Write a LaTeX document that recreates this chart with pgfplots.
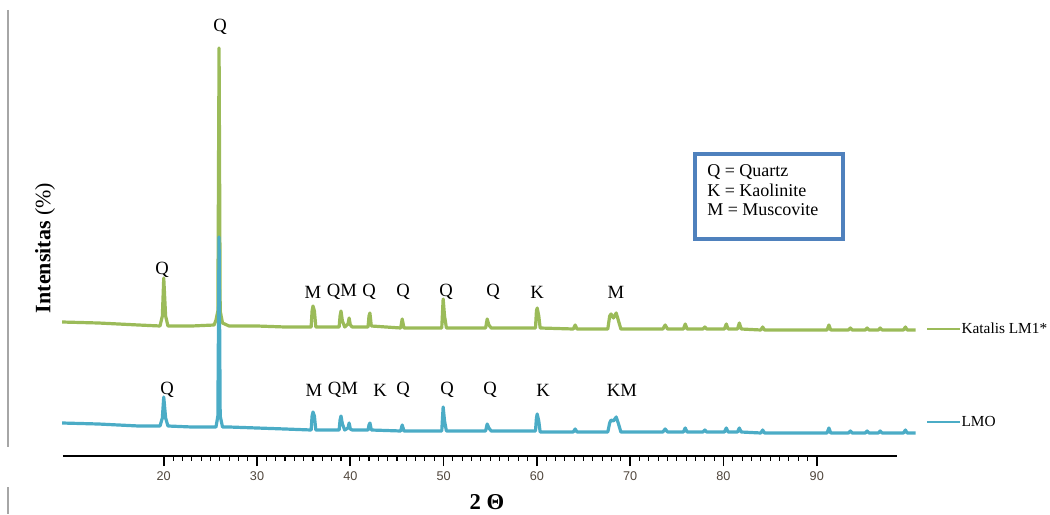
\documentclass[border=0pt]{standalone}
\usepackage{fontspec}
\setmainfont{Liberation Serif}
\newfontfamily\tickfont{Liberation Sans}
\usepackage{pgfplots}
\pgfplotsset{compat=1.18}

\definecolor{lmgreen}{HTML}{9BBB59}
\definecolor{lmblue}{HTML}{4BACC6}
\definecolor{boxblue}{HTML}{4F81BD}
\definecolor{ticktxt}{RGB}{80,70,60}

\newcommand{\pk}{\fontsize{14}{16}\selectfont}

\begin{document}
\begin{tikzpicture}[px/.style={x=0.75pt,y=-0.75pt,shift={(-47.25pt,342pt)}}]
\begin{scope}[px]
\useasboundingbox (0,0) rectangle (1050,514);
\end{scope}

\begin{axis}[
    at={(0,0)}, anchor=south west,
    scale only axis,
    width=625.5pt,
    height=327pt,
    xmin=9.2, xmax=98.6,
    ymin=0, ymax=436,
    axis x line*=bottom,
    axis y line=none,
    ytick=\empty,
    xtick={20,30,...,90},
    minor x tick num=9,
    tick align=outside,
    major tick length=7.5pt,
    minor tick length=3.5pt,
    x axis line style={line width=1.6pt, black},
    major tick style={line width=1.3pt, black},
    minor tick style={line width=0.8pt, black},
    /pgf/number format/assume math mode=true,
    xticklabel style={font=\tickfont\fontsize{9.5}{11}\selectfont, text=ticktxt, yshift=-1pt},
    clip=false,
]
% Katalis LM1* (upper trace)
\addplot[lmgreen, line width=2.4pt, line join=round] coordinates {
    (9.1,134) (13.0,133) (17.3,131) (19.6,130) (19.85,140) (20.0,178) (20.2,140) (20.45,130)
    (23.0,130) (25.4,131) (25.6,136) (25.8,145) (25.93,408) (26.05,145) (26.3,133) (27.0,130)
    (30.0,130) (33.0,129) (35.8,129) (35.9,145) (36.0,150) (36.15,145) (36.3,129)
    (38.8,129) (38.9,140) (39.0,145) (39.15,135) (39.4,129) (39.75,132) (39.87,138) (40.0,131) (40.2,129)
    (41.9,129) (42.0,140) (42.1,143) (42.25,130) (45.4,128) (45.56,137) (45.75,128)
    (49.8,128) (49.95,157) (50.1,140) (50.3,128) (54.5,128) (54.67,137) (54.85,131) (55.1,128)
    (59.85,128) (59.95,145) (60.03,148) (60.2,140) (60.35,128) (63.9,127) (64.1,131) (64.3,127)
    (67.6,127) (67.8,140) (67.95,142) (68.2,138) (68.5,143) (68.75,135) (69.0,127)
    (73.5,127) (73.75,131) (74.0,127) (75.7,127) (75.9,132) (76.1,127) (77.8,127) (78.0,129) (78.2,127)
    (80.1,127) (80.3,132) (80.5,127) (81.5,127) (81.7,133) (81.9,127) (84.0,126) (84.2,129) (84.4,126)
    (91.1,126) (91.3,131) (91.5,126) (93.4,126) (93.6,128) (93.8,126) (95.2,126) (95.4,128) (95.6,126)
    (96.6,126) (96.8,128) (97.0,126) (99.3,126) (99.5,129) (99.7,126) (100.6,126)
};
% LMO (lower trace)
\addplot[lmblue, line width=2.4pt, line join=round] coordinates {
    (9.1,33) (13.0,32) (17.3,30) (19.6,30) (19.85,38) (20.0,59) (20.2,38) (20.45,30)
    (23.0,29) (25.6,29) (25.8,40) (25.93,219) (26.05,40) (26.3,29) (27.0,29)
    (30.0,28) (33.0,27) (35.8,26) (35.9,40) (36.0,44) (36.15,40) (36.3,26)
    (38.8,26) (38.9,36) (39.0,40) (39.15,32) (39.4,26) (39.75,28) (39.87,33) (40.0,27) (40.2,26)
    (41.9,26) (42.0,31) (42.1,33) (42.25,26) (45.4,25) (45.56,31) (45.75,25)
    (49.8,25) (49.95,49) (50.1,35) (50.3,25) (54.5,25) (54.67,32) (54.85,28) (55.1,25)
    (59.85,25) (59.95,38) (60.03,42) (60.2,35) (60.35,24) (63.9,24) (64.1,27) (64.3,24)
    (67.6,24) (67.8,33) (67.95,36) (68.2,35) (68.5,39) (68.75,32) (69.0,24)
    (73.5,24) (73.75,27) (74.0,24) (75.7,24) (75.9,28) (76.1,24) (77.8,24) (78.0,26) (78.2,24)
    (80.1,24) (80.3,28) (80.5,24) (81.5,24) (81.7,28) (81.9,24) (84.0,23) (84.2,26) (84.4,23)
    (91.1,23) (91.3,28) (91.5,23) (93.4,23) (93.6,25) (93.8,23) (95.2,23) (95.4,25) (95.6,23)
    (96.6,23) (96.8,25) (97.0,23) (99.3,23) (99.5,26) (99.7,23) (100.6,23)
};
\end{axis}

\begin{scope}[px]
% frame remnants on the left
\draw[black!35, line width=1.1pt] (8,10) -- (8,447);
\draw[black!35, line width=1.1pt] (8,487) -- (8,514);
% axis titles
\node[rotate=90, font=\fontsize{16.5}{18}\selectfont] at (45,248) {\textbf{Intensitas} (\%)};
\node[font=\bfseries\fontsize{17}{19}\selectfont] at (487,502) {2 Θ};
% peak labels
\node[font=\pk] at (220,27) {Q};
\node[font=\pk] at (162,270) {Q};
\foreach \x/\t in {313/M, 342/QM, 369/Q, 403/Q, 446/Q, 493/Q, 537/K, 616/M}
    \node[font=\pk] at (\x,292) {\t};
\foreach \x/\t in {167/Q, 314/M, 343/QM, 380/K, 403/Q, 447/Q, 490/Q, 543/K, 622/KM}
    \node[font=\pk] at (\x,390) {\t};
% phase key
\draw[boxblue, line width=2.3pt, fill=white] (695,154) rectangle (843,239);
\node[anchor=base west, inner sep=0pt, font=\fontsize{13.5}{15}\selectfont] at (707,177) {Q = Quartz};
\node[anchor=base west, inner sep=0pt, font=\fontsize{13.5}{15}\selectfont] at (707,197) {K = Kaolinite};
\node[anchor=base west, inner sep=0pt, font=\fontsize{13.5}{15}\selectfont] at (707,216) {M = Muscovite};
% series legend
\draw[lmgreen, line width=1.6pt] (927,329) -- (960,329);
\node[anchor=west, inner sep=1pt, font=\fontsize{11.5}{13}\selectfont] at (960,328) {Katalis LM1*};
\draw[lmblue, line width=1.6pt] (927,422) -- (960,422);
\node[anchor=west, inner sep=1pt, font=\fontsize{11.5}{13}\selectfont] at (960,421) {LMO};
\end{scope}
\end{tikzpicture}
\end{document}
